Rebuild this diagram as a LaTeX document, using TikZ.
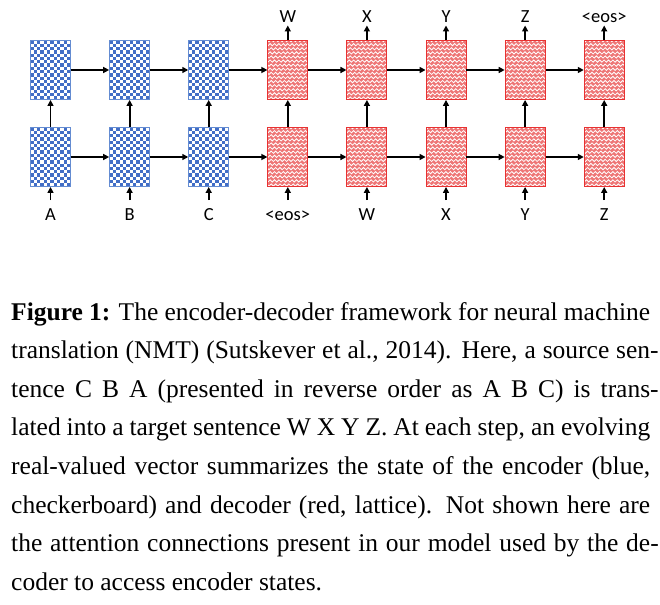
\documentclass[tikz,border=0pt]{standalone}
\usepackage{fontspec}
\setmainfont{Liberation Serif}
\newfontfamily\lblfont{Carlito}
\usetikzlibrary{arrows.meta}
\definecolor{encblue}{RGB}{66,110,198}
\definecolor{encedge}{RGB}{100,140,210}
\definecolor{decfill}{RGB}{238,118,118}
\definecolor{decedge}{RGB}{232,50,50}
\tikzset{
  cell/.style={rectangle, inner sep=0pt, minimum width=40pt, minimum height=59pt, line width=0.9pt},
  enc/.style={cell, draw=encedge, fill=white, path picture={
      \foreach \j in {0,...,17}{
        \pgfmathtruncatemacro\off{mod(\j,2)}
        \foreach \i in {0,2,...,10}{
          \fill[encblue] ([xshift={(\i+\off)*3.333pt}, yshift={-\j*3.278pt}]path picture bounding box.north west) rectangle ++(3.333pt,-3.278pt);
        }}}},
  dec/.style={cell, draw=decedge, fill=decfill, path picture={
      \foreach \r in {0,...,15}{
        \draw[white, line width=0.8pt] ([xshift={-1pt-mod(\r,2)*1.1pt}, yshift={1pt-\r*4.1pt}]path picture bounding box.north west)
          \foreach \k in {0,...,9}{ -- ++(2.2pt,-2.2pt) -- ++(2.2pt,2.2pt) };
      }}},
  conn/.style={-{Triangle[length=6pt,width=6pt]}, line width=1.8pt, black},
  lbl/.style={inner sep=0pt, anchor=base, font=\lblfont\fontsize{18.5}{20}\selectfont},
  capline/.style={anchor=base west, inner sep=0pt, font=\fontsize{25.5}{38.6}\selectfont}
}
\begin{document}
\begin{tikzpicture}[x=1pt, y=-1pt]
\useasboundingbox (0,0) rectangle (660,604);
% cells
\foreach \i in {0,...,2}{
  \node[enc] (t\i) at ({50.5+79.1*\i},70) {};
  \node[enc] (b\i) at ({50.5+79.1*\i},157) {};
}
\foreach \i in {3,...,7}{
  \node[dec] (t\i) at ({50.5+79.1*\i},70) {};
  \node[dec] (b\i) at ({50.5+79.1*\i},157) {};
}
% recurrent connections
\foreach \i [evaluate=\i as \n using int(\i+1)] in {0,...,6}{
  \draw[conn] (t\i) -- (t\n);
  \draw[conn] (b\i) -- (b\n);
}
% layer connections
\foreach \i in {0,...,7}{
  \draw[conn] (b\i) -- (t\i);
}
% inputs
\foreach \i/\t in {0/A,1/B,2/C,3/{<eos>},4/W,5/X,6/Y,7/Z}{
  \coordinate (ic\i) at ({50.5+79.1*\i},200);
  \draw[conn] (ic\i) -- (b\i);
  \node[lbl] (il\i) at ({50.5+79.1*\i},220) {\t};
}
% outputs
\foreach \i/\t in {3/W,4/X,5/Y,6/Z,7/{<eos>}}{
  \coordinate (oc\i) at ({50.5+79.1*\i},25.5);
  \draw[conn] (t\i) -- (oc\i);
  \node[lbl] (ol\i) at ({50.5+79.1*\i},22.8) {\t};
}
% caption
\node[capline] (c1) at (11,320) {\makebox[639pt][s]{\textbf{Figure 1:} The encoder-decoder framework for neural machine}};
\node[capline] (c2) at (11,358.6) {\makebox[639pt][s]{translation (NMT) (Sutskever et al., 2014). Here, a source sen}\rlap{-}};
\node[capline] (c3) at (11,397.2) {\makebox[639pt][s]{tence C B A (presented in reverse order as A B C) is trans}\rlap{-}};
\node[capline] (c4) at (11,435.8) {\makebox[639pt][s]{lated into a target sentence W X Y Z. At each step, an evolving}};
\node[capline] (c5) at (11,474.4) {\makebox[639pt][s]{real-valued vector summarizes the state of the encoder (blue,}};
\node[capline] (c6) at (11,513) {\makebox[639pt][s]{checkerboard) and decoder (red, lattice). Not shown here are}};
\node[capline] (c7) at (11,551.6) {\makebox[639pt][s]{the attention connections present in our model used by the de}\rlap{-}};
\node[capline] (c8) at (11,590.2) {coder to access encoder states.};
\end{tikzpicture}
\end{document}
